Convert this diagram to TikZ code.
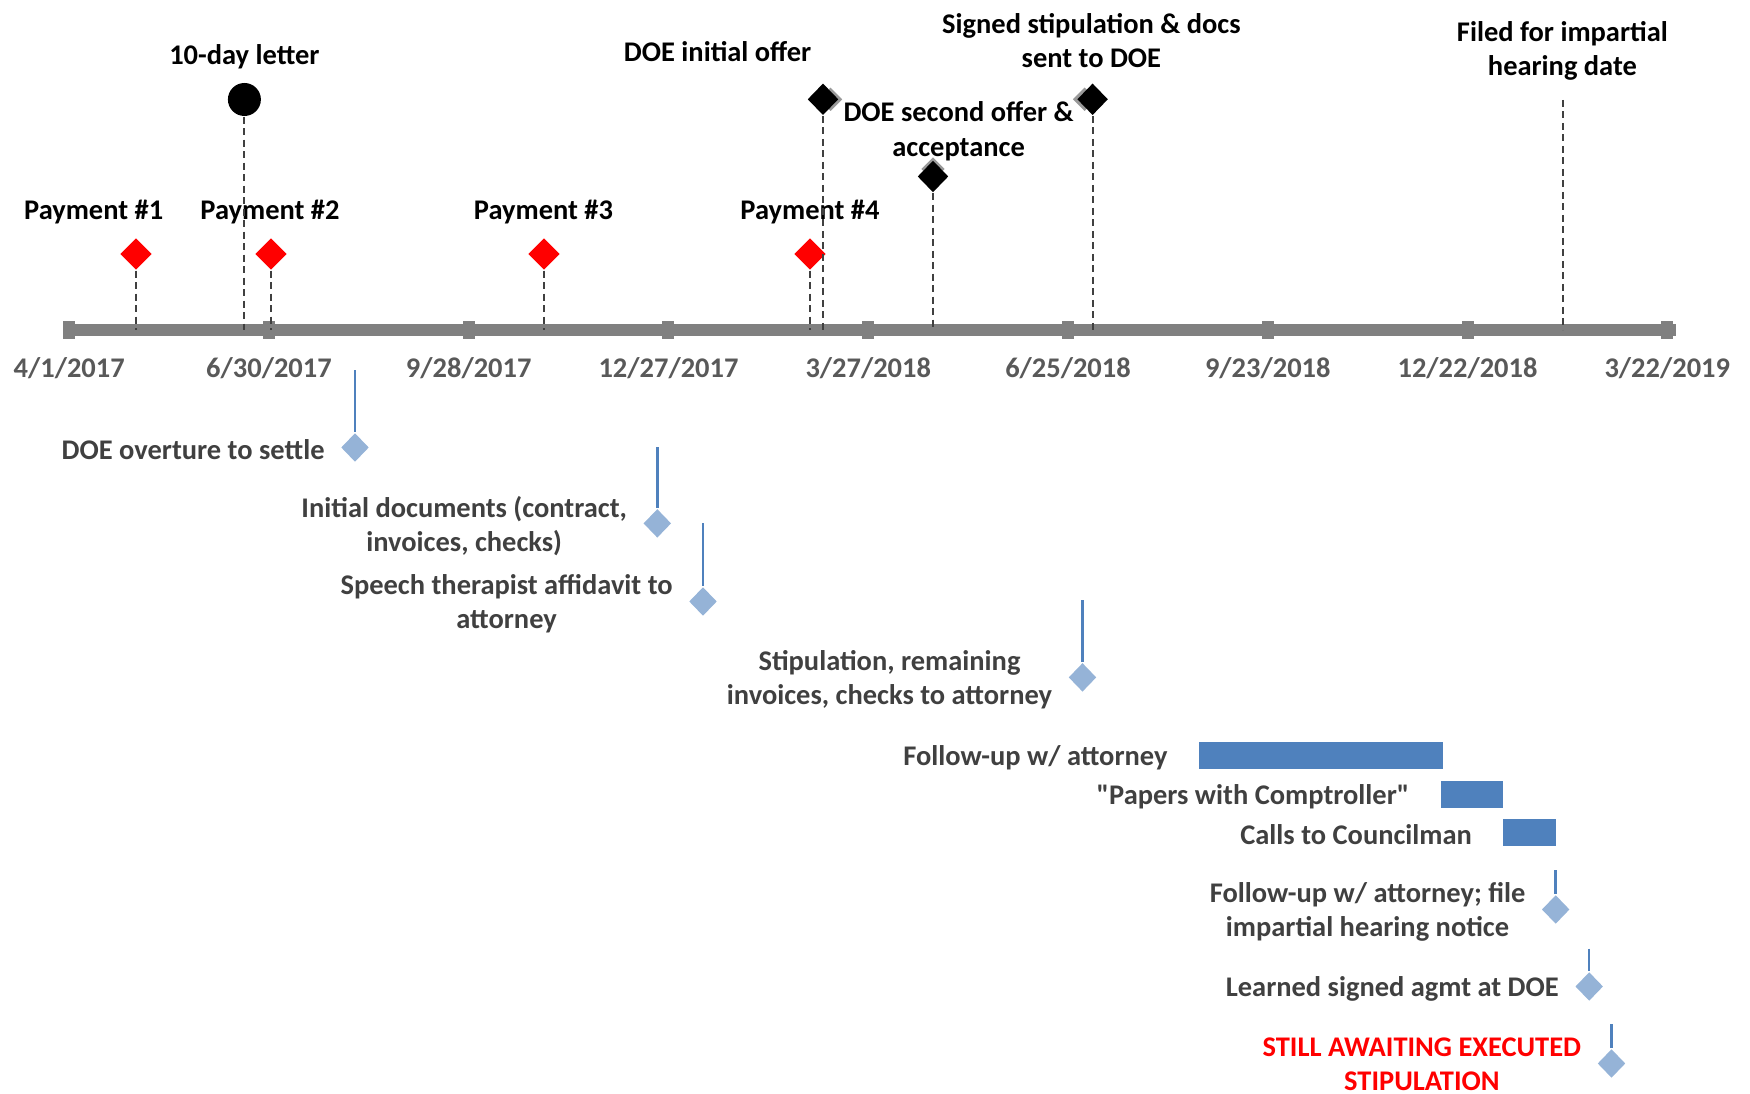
\documentclass[tikz,border=0pt]{standalone}
\usepackage{fontspec}
\setmainfont{Carlito}
\usetikzlibrary{positioning,shapes.geometric}
\definecolor{axisgray}{HTML}{808080}
\definecolor{dategray}{HTML}{595959}
\definecolor{darktext}{HTML}{404040}
\definecolor{stemblue}{HTML}{4F81BD}
\definecolor{diablue}{HTML}{95B3D7}
\definecolor{barblue}{HTML}{4F81BD}
\tikzset{%
	toplabel/.style  = {align=center, text=black, inner sep=0pt, yshift=-0.22mm},
	datelabel/.style = {text=dategray, inner sep=0pt, yshift=-0.1mm},
	lowlabel/.style  = {align=center, text=darktext, inner sep=0pt, yshift=-0.25mm},
	tickbox/.style   = {rectangle, fill=axisgray, inner sep=0pt, minimum width=1.2mm, minimum height=1.8mm},
	paydia/.style    = {diamond, fill=red, inner sep=0pt, minimum width=3.2mm, minimum height=3.2mm},
	doedia/.style    = {diamond, fill=black, inner sep=0pt, minimum width=3.1mm, minimum height=3.2mm},
	ghostdia/.style  = {diamond, fill=axisgray!80, inner sep=0pt, minimum width=2.4mm, minimum height=2.4mm},
	lowdia/.style    = {diamond, fill=diablue, inner sep=0pt, minimum width=2.8mm, minimum height=2.9mm},
	stem/.style      = {draw=darktext, line width=0.2mm, dash pattern=on 0.7mm off 0.45mm},
	bluestem/.style  = {draw=stemblue, line width=0.25mm},
	bar/.style       = {rectangle, fill=barblue, inner sep=0pt, minimum height=2.7mm},
}

\begin{document}
\begin{tikzpicture}[x=0.1mm, y=-0.1mm, font=\fontsize{8.1}{9.8}\selectfont\bfseries]
	\useasboundingbox (0,0) rectangle (1750,1094);
	
	% time axis
	\coordinate (axL) at (64,330);
	\coordinate (axR) at (1676,330);
	\draw[axisgray, line width=1.2mm] (axL) -- (axR);
	\foreach \d [count=\k from 0] in {4/1/2017,6/30/2017,9/28/2017,12/27/2017,3/27/2018,6/25/2018,9/23/2018,12/22/2018,3/22/2019} {
		\node[tickbox] (tick\k) at ({69.2+199.76*\k},330) {};
		\node[datelabel] (date\k) at ({69.2+199.76*\k},367) {\d};
	}
	
	% payments
	\foreach \x/\lx/\n in {136/93.7/1, 271/270/2, 544/543.5/3, 810/810/4} {
		\node[paydia] (pay\n) at (\x,254) {};
		\coordinate (pay\n-ax) at (\x,330);
		\draw[stem] (pay\n) -- (pay\n-ax);
		\node[toplabel] (pay\n-lbl) at (\lx,210) {Payment \#\n};
	}
	
	% letter and DOE steps
	\node[circle, fill=black, inner sep=0pt, minimum size=3.3mm] (letter) at (244.4,99.5) {};
	\coordinate (letter-ax) at (244.4,330);
	\draw[stem] (letter) -- (letter-ax);
	\node[toplabel] (letter-lbl) at (244.4,54.7) {10-day letter};
	
	\node[ghostdia] (offer1-g) at (830.5,99.3) {};
	\node[doedia] (offer1) at (823,99.3) {};
	\coordinate (offer1-ax) at (823,330);
	\draw[stem] (offer1) -- (offer1-ax);
	\node[toplabel] (offer1-lbl) at (717.6,49.1) {DOE initial offer};
	
	\node[ghostdia] (offer2-g) at (933,169) {};
	\node[doedia] (offer2) at (933,176.5) {};
	\coordinate (offer2-ax) at (933,330);
	\draw[stem] (offer2) -- (offer2-ax);
	\node[toplabel] (offer2-lbl) at (958.6,128.9) {DOE second offer \&\\acceptance};
	
	\node[ghostdia] (signed-g) at (1084.6,99.3) {};
	\node[doedia] (signed) at (1092.6,99.3) {};
	\coordinate (signed-ax) at (1092.6,330);
	\draw[stem] (signed) -- (signed-ax);
	\node[toplabel] (signed-lbl) at (1091.4,38.5) {Signed stipulation \& docs\\sent to DOE};
	
	\node[toplabel] (filed-lbl) at (1562.4,48.5) {Filed for impartial\\hearing date};
	\coordinate (filed-top) at (1563,100);
	\coordinate (filed-ax) at (1563,330);
	\draw[stem] (filed-top) -- (filed-ax);
	
	% steps below the axis
	\foreach \nm/\x/\y/\ty/\txt in {overture/355/447.5/370.5/{DOE overture to settle},
		initdocs/657.3/523.4/447.5/{Initial documents (contract,\\invoices, checks)},
		affidavit/703/601.5/523.4/{Speech therapist affidavit to\\attorney},
		stiprem/1082.5/677.4/600.4/{Stipulation, remaining\\invoices, checks to attorney},
		notice/1555.7/909.5/870.5/{Follow-up w/ attorney; file\\impartial hearing notice},
		learned/1589.2/986.5/948.6/{Learned signed agmt at DOE}} {
		\node[lowdia] (\nm) at (\x,\y) {};
		\coordinate (\nm-top) at (\x,\ty);
		\draw[bluestem] (\nm-top) -- (\nm);
		\node[lowlabel, left=1.5mm of \nm] (\nm-lbl) {\txt};
	}
	
	\node[lowdia] (awaiting) at (1611.5,1063.5) {};
	\coordinate (awaiting-top) at (1611.5,1024.5);
	\draw[bluestem] (awaiting-top) -- (awaiting);
	\node[lowlabel, text=red, left=1.5mm of awaiting, yshift=0.15mm] (awaiting-lbl) {STILL AWAITING EXECUTED\\STIPULATION};
	
	% bars
	\node[bar, minimum width=24.4mm] (followbar) at (1320.8,755.5) {};
	\node[lowlabel, left=3mm of followbar] (followbar-lbl) {Follow-up w/ attorney};
	\node[bar, minimum width=6.25mm] (papersbar) at (1472,794.5) {};
	\node[lowlabel, left=3mm of papersbar] (papersbar-lbl) {\textquotedbl Papers with Comptroller\textquotedbl};
	\node[bar, minimum width=5.24mm] (callsbar) at (1529.5,832.5) {};
	\node[lowlabel, left=3mm of callsbar] (callsbar-lbl) {Calls to Councilman};
\end{tikzpicture}
\end{document}
